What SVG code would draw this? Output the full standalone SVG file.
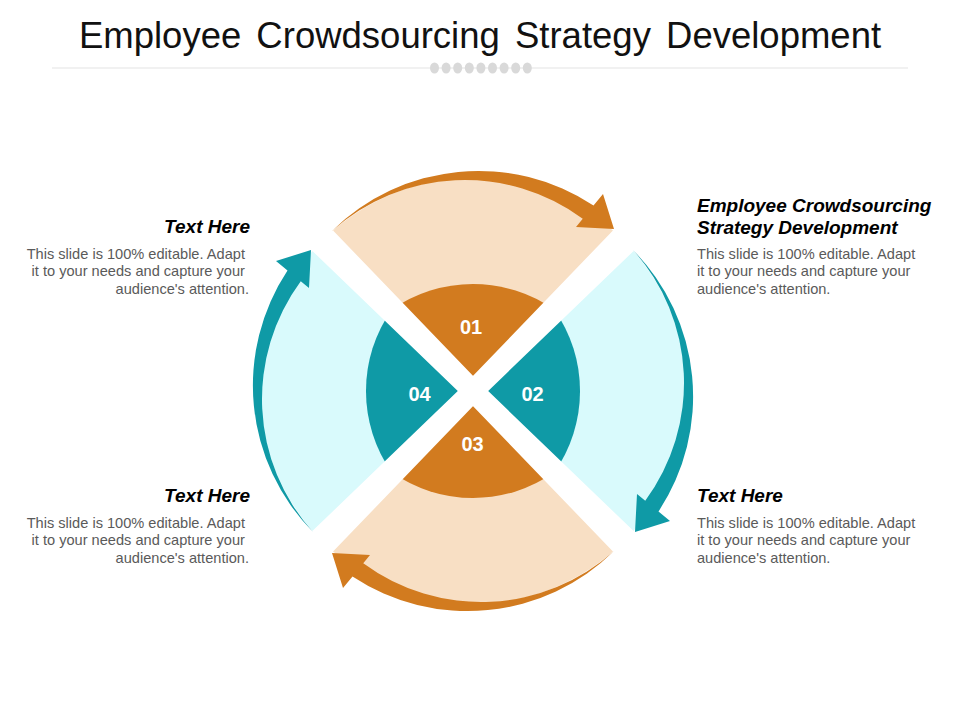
<svg xmlns="http://www.w3.org/2000/svg" width="960" height="720" viewBox="0 0 960 720">
  <style>
    .title { font-family: "Liberation Sans", Arial, sans-serif; font-size: 36.5px; fill: #111111; word-spacing: 5px; }
    .head { font-family: "Liberation Sans", Arial, sans-serif; font-size: 19px; font-weight: bold; font-style: italic; fill: #000000; }
    .body { font-family: "Liberation Sans", Arial, sans-serif; font-size: 14.6px; fill: #5A5A5A; }
    .num { font-family: "Liberation Sans", Arial, sans-serif; font-size: 20px; font-weight: bold; fill: #FFFFFF; text-anchor: middle; }
    .orange { fill: #D27B1F; }
    .teal { fill: #0F9AA6; }
    .peach { fill: #F8DFC4; }
    .ice { fill: #D9FAFC; }
    .gap { fill: #FFFFFF; }
    .dot { fill: #D9D9D9; }
  </style>
  <defs>
    <path id="arrow" d="M332,231 A208.5,208.5 0 0 1 593.5,205.5 L603,194 L614,229 L576,227 L582.75,218.75 A198.6,198.6 0 0 0 332,231 Z"/>
  </defs>
  <rect x="0" y="0" width="960" height="720" fill="#FFFFFF"/>

  <g id="title">
    <text class="title" x="480" y="48" text-anchor="middle">Employee Crowdsourcing Strategy Development</text>
    <line x1="52" y1="68" x2="908" y2="68" stroke="#E3E3E3" stroke-width="1"/>
    <g id="title-dots">
      <ellipse class="dot" cx="434.5" cy="68" rx="4.5" ry="5.5"/>
      <ellipse class="dot" cx="446.1" cy="68" rx="4.5" ry="5.5"/>
      <ellipse class="dot" cx="457.7" cy="68" rx="4.5" ry="5.5"/>
      <ellipse class="dot" cx="469.3" cy="68" rx="4.5" ry="5.5"/>
      <ellipse class="dot" cx="480.9" cy="68" rx="4.5" ry="5.5"/>
      <ellipse class="dot" cx="492.5" cy="68" rx="4.5" ry="5.5"/>
      <ellipse class="dot" cx="504.1" cy="68" rx="4.5" ry="5.5"/>
      <ellipse class="dot" cx="515.7" cy="68" rx="4.5" ry="5.5"/>
      <ellipse class="dot" cx="527.3" cy="68" rx="4.5" ry="5.5"/>
    </g>
  </g>

  <g id="outer-sectors">
    <path id="sector-top" class="peach" d="M473,391 L322.4,240.4 A213,213 0 0 1 623.6,240.4 Z"/>
    <path id="sector-right" class="ice" d="M473,391 L623.6,240.4 A213,213 0 0 1 623.6,541.6 Z"/>
    <path id="sector-bottom" class="peach" d="M473,391 L623.6,541.6 A213,213 0 0 1 322.4,541.6 Z"/>
    <path id="sector-left" class="ice" d="M473,391 L322.4,541.6 A213,213 0 0 1 322.4,240.4 Z"/>
  </g>

  <g id="node-01">
    <path class="orange" d="M473,391 L391.7,309.7 A141.4,141.4 0 0 1 554.3,309.7 Z"/>
  </g>
  <g id="node-02">
    <path class="teal" d="M473,391 L554.3,309.7 A141.4,141.4 0 0 1 554.3,472.3 Z"/>
  </g>
  <g id="node-03">
    <path class="orange" d="M473,391 L554.3,472.3 A141.4,141.4 0 0 1 391.7,472.3 Z"/>
  </g>
  <g id="node-04">
    <path class="teal" d="M473,391 L391.7,472.3 A141.4,141.4 0 0 1 391.7,309.7 Z"/>
  </g>

  <g id="gaps">
    <polygon class="gap" points="317.4,214.2 480.4,383.6 649.8,546.6 628.6,567.8 465.6,398.4 296.2,235.4"/>
    <polygon class="gap" points="649.8,235.4 480.4,398.4 317.4,567.8 296.2,546.6 465.6,383.6 628.6,214.2"/>
  </g>

  <g id="labels">
    <text class="num" x="471" y="334">01</text>
    <text class="num" x="532.5" y="400.5">02</text>
    <text class="num" x="472.5" y="450.5">03</text>
    <text class="num" x="419.5" y="400.5">04</text>
  </g>

  <g id="connectors">
    <use href="#arrow" class="orange"/>
    <use href="#arrow" class="teal" transform="rotate(90 473 391)"/>
    <use href="#arrow" class="orange" transform="rotate(180 473 391)"/>
    <use href="#arrow" class="teal" transform="rotate(270 473 391)"/>
  </g>

  <g id="text-top-left">
    <text class="head" x="250" y="233" text-anchor="end">Text Here</text>
    <text class="body" text-anchor="end">
      <tspan x="249" y="258.5">This slide is 100% editable. Adapt</tspan>
      <tspan x="249" y="276">it to your needs and capture your</tspan>
      <tspan x="249" y="293.5">audience's attention.</tspan>
    </text>
  </g>

  <g id="text-top-right">
    <text class="head">
      <tspan x="697" y="211.5">Employee Crowdsourcing</tspan>
      <tspan x="697" y="233.5">Strategy Development</tspan>
    </text>
    <text class="body">
      <tspan x="697" y="258.5">This slide is 100% editable. Adapt</tspan>
      <tspan x="697" y="276">it to your needs and capture your</tspan>
      <tspan x="697" y="293.5">audience's attention.</tspan>
    </text>
  </g>

  <g id="text-bottom-left">
    <text class="head" x="250" y="502" text-anchor="end">Text Here</text>
    <text class="body" text-anchor="end">
      <tspan x="249" y="527.5">This slide is 100% editable. Adapt</tspan>
      <tspan x="249" y="545">it to your needs and capture your</tspan>
      <tspan x="249" y="562.5">audience's attention.</tspan>
    </text>
  </g>

  <g id="text-bottom-right">
    <text class="head" x="697" y="502">Text Here</text>
    <text class="body">
      <tspan x="697" y="527.5">This slide is 100% editable. Adapt</tspan>
      <tspan x="697" y="545">it to your needs and capture your</tspan>
      <tspan x="697" y="562.5">audience's attention.</tspan>
    </text>
  </g>
</svg>
